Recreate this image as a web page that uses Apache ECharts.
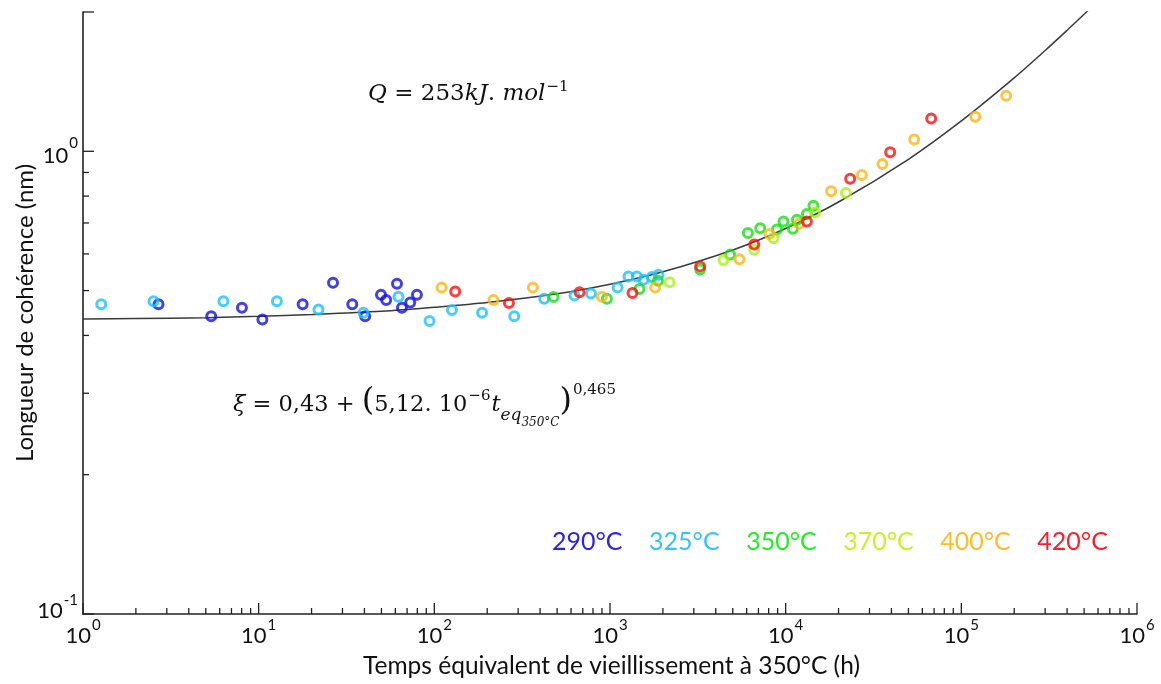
<!DOCTYPE html>
<html><head><meta charset="utf-8">
<script src="https://cdn.jsdelivr.net/npm/echarts@6/dist/echarts.min.js"></script>
<style>html,body{margin:0;padding:0;background:#fff}#c{width:1161px;height:684px}</style>
</head><body><div id="c"></div>
<script>
// ---- data ----
const seriesNames = ['290°C', '325°C', '350°C', '370°C', '400°C', '420°C'];
const seriesColors = ['#1212e6', '#1cc0ff', '#14e014', '#aaf014', '#ffb414', '#ff0c0c'];
const legendColors = ['#2a22f0', '#30c4ff', '#22ee22', '#c4f422', '#ffbc28', '#ff1c28'];

const s290 = [[2.69,0.467],[5.37,0.440],[8.03,0.459],[10.5,0.433],[17.8,0.467],[26.5,0.520],[34.1,0.467],[40.4,0.440],[49.7,0.490],[53.2,0.477],[61.3,0.517],[65.4,0.459],[72.9,0.471],[79.6,0.490]];
const s325 = [[1.27,0.467],[2.52,0.474],[6.3,0.474],[12.7,0.474],[21.9,0.455],[39.5,0.448],[62.5,0.485],[93.9,0.430],[126,0.454],[187,0.448],[285,0.440],[422,0.480],[628,0.488],[779,0.493],[1104,0.508],[1274,0.536],[1422,0.536],[1552,0.528],[1732,0.535],[1888,0.541]];
const s350 = [[477,0.484],[960,0.480],[1472,0.504],[1875,0.525],[3260,0.555],[4830,0.598],[6095,0.666],[7163,0.682],[8915,0.678],[9720,0.705],[10990,0.680],[11590,0.711],[13210,0.732],[14390,0.763]];
const s370 = [[2181,0.521],[4426,0.582],[6622,0.613],[8530,0.649],[14720,0.738],[22020,0.813]];
const s400 = [[110,0.508],[217,0.477],[364,0.508],[899,0.485],[1808,0.508],[5457,0.584],[8088,0.663],[11940,0.697],[18150,0.820],[27150,0.889],[35560,0.939],[53870,1.060],[119900,1.188],[179900,1.319]];
const s420 = [[131.5,0.498],[266,0.470],[671,0.496],[1343,0.494],[3260,0.564],[6622,0.629],[13210,0.705],[23290,0.872],[39350,0.995],[67350,1.177]];

// fitted curve
const fitT  = [1, 2, 5, 10, 20, 50, 100, 200, 500, 1000, 2000, 5000, 10000, 20000, 50000, 100000, 200000, 300000, 400000, 500000, 600000];
const fitXi = [0.434, 0.435, 0.437, 0.440, 0.444, 0.451, 0.460, 0.471, 0.492, 0.516, 0.549, 0.612, 0.681, 0.777, 0.961, 1.163, 1.441, 1.651, 1.826, 1.978, 2.115];

// axes
const X_MIN = 1, X_MAX = 1e6, Y_MIN = 0.1, Y_MAX = 2;
const xMajorTicks = [1, 10, 100, 1000, 10000, 100000, 1000000];
const yMajorTicks = [0.1, 1, 2];
const mantissas = [2, 3, 4, 5, 6, 7, 8, 9];
const xMinorTicks = [];
for (let k = 0; k < 6; k++) for (const m of mantissas) xMinorTicks.push(m * Math.pow(10, k));
const yMinorTicks = mantissas.map(m => m / 10);

const SANS = "Lato, 'Open Sans', sans-serif";
const SERIF = "'DejaVu Serif', serif";
const AXIS_COLOR = '#222';
const MAJOR_LEN = 11, MINOR_LEN = 6;

const chart = echarts.init(document.getElementById('c'), null, {renderer: 'canvas'});

function expLabel(v) {
  const e = Math.log10(v);
  if (Math.abs(e - Math.round(e)) > 1e-6) return '';
  return '{b|10}{s|' + Math.round(e) + '}';
}
function yExpLabel(v) {
  const e = Math.log10(v);
  if (Math.abs(e - Math.round(e)) > 1e-6) return '';
  const k = Math.round(e);
  return k < 0 ? '{bl|10}{sl|' + k + '}' : '{b|10}{s|' + k + '}';
}
const labelRich = {
  b: {fontSize: 22, fontFamily: SANS, color: '#111', verticalAlign: 'top', padding: [7, 0, 0, 0]},
  s: {fontSize: 15, fontFamily: SANS, color: '#111', verticalAlign: 'top', padding: [0, 0, 0, 1]}
};
const yLabelRich = {
  b: {fontSize: 22, fontFamily: SANS, color: '#111', verticalAlign: 'top', padding: [9, 0, 0, 0]},
  s: {fontSize: 15, fontFamily: SANS, color: '#111', verticalAlign: 'top', padding: [0, 0, 0, 1]},
  bl: {fontSize: 22, fontFamily: SANS, color: '#111', verticalAlign: 'top', padding: [7, 0, 14, 0]},
  sl: {fontSize: 15, fontFamily: SANS, color: '#111', verticalAlign: 'top', padding: [0, 0, 0, 1]}
};

const xTickData = xMajorTicks.map(v => [v, Y_MIN, MAJOR_LEN]).concat(xMinorTicks.map(v => [v, Y_MIN, MINOR_LEN]));
const yTickData = yMajorTicks.map(v => [X_MIN, v, MAJOR_LEN]).concat(yMinorTicks.map(v => [X_MIN, v, MINOR_LEN]));

const scatterSeries = [s290, s325, s350, s370, s400, s420].map((d, i) => ({
  name: seriesNames[i],
  type: 'scatter',
  data: d,
  symbol: 'circle',
  symbolSize: 9,
  z: 3,
  itemStyle: {color: 'rgba(255,255,255,0)', borderColor: seriesColors[i], borderWidth: 3}
}));

const option = {
  animation: false,
  backgroundColor: '#fff',
  grid: {left: 83, right: 24, top: 12, bottom: 70, containLabel: false, outerBoundsMode: 'none'},
  xAxis: {
    type: 'log', min: X_MIN, max: X_MAX, logBase: 10,
    axisLine: {show: true, onZero: false, lineStyle: {color: AXIS_COLOR, width: 1.6}},
    axisTick: {show: false},
    splitLine: {show: false},
    minorTick: {show: false},
    axisLabel: {margin: 4, formatter: expLabel, rich: labelRich, showMinLabel: true, showMaxLabel: true},
    name: 'Temps équivalent de vieillissement à 350°C (h)',
    nameLocation: 'middle', nameGap: 40,
    nameTextStyle: {fontSize: 24.5, fontFamily: SANS, color: '#111', padding: [0, 0, 0, 3]}
  },
  yAxis: {
    type: 'log', min: Y_MIN, max: Y_MAX, logBase: 10,
    axisLine: {show: true, onZero: false, lineStyle: {color: AXIS_COLOR, width: 1.6}},
    axisTick: {show: false},
    splitLine: {show: false},
    minorTick: {show: false},
    axisLabel: {margin: 5, formatter: yExpLabel, rich: yLabelRich, showMaxLabel: false},
    name: 'Longueur de cohérence (nm)',
    nameLocation: 'middle', nameGap: 46, nameRotate: 90, nameMoveOverlap: false,
    nameTextStyle: {fontSize: 24, fontFamily: SANS, color: '#111'}
  },
  legend: {
    left: 541, top: 524, itemGap: 20.5, itemWidth: 1, itemHeight: 1,
    selectedMode: false,
    textStyle: {fontSize: 25, fontFamily: SANS},
    data: seriesNames.map((n, i) => ({name: n, icon: 'none', textStyle: {color: legendColors[i]}}))
  },
  series: [
    {
      type: 'line', name: 'fit', data: fitT.map((t, i) => [t, fitXi[i]]),
      smooth: 0.3, showSymbol: false, symbol: 'none', clip: true, z: 2,
      lineStyle: {color: '#3a3a3a', width: 1.5}
    },
    {
      type: 'custom', silent: true, z: 5, clip: false, data: xTickData,
      encode: {x: 0, y: 1},
      renderItem: (params, api) => {
        const p = api.coord([api.value(0), api.value(1)]);
        const len = api.value(2);
        return {type: 'line', shape: {x1: p[0], y1: p[1], x2: p[0], y2: p[1] - len}, style: {stroke: AXIS_COLOR, lineWidth: 1.3}};
      }
    },
    {
      type: 'custom', silent: true, z: 5, clip: false, data: yTickData,
      encode: {x: 0, y: 1},
      renderItem: (params, api) => {
        const p = api.coord([api.value(0), api.value(1)]);
        const len = api.value(2);
        return {type: 'line', shape: {x1: p[0], y1: p[1], x2: p[0] + len, y2: p[1]}, style: {stroke: AXIS_COLOR, lineWidth: 1.3}};
      }
    }
  ].concat(scatterSeries),
  graphic: [
    {
      type: 'text', left: 368, top: 80, silent: true,
      style: {
        text: '{i|Q}{n| = 253}{i|kJ}{n|. }{i|mol}{s|−1}',
        rich: {
          i: {fontSize: 23, fontFamily: SERIF, fontStyle: 'italic', fill: '#111', verticalAlign: 'top', padding: [4, 0, 0, 0]},
          n: {fontSize: 23, fontFamily: SERIF, fill: '#111', verticalAlign: 'top', padding: [4, 0, 0, 0]},
          s: {fontSize: 15, fontFamily: SERIF, fill: '#111', verticalAlign: 'top', padding: [1, 0, 0, 1]}
        }
      }
    },
    {
      type: 'text', left: 233, top: 383, silent: true,
      style: {
        text: '{i|ξ}{n| = 0,43 + }{p|(}{n|5,12. 10}{s|−6}{i|t}{sb|eq}{ssb|350°C}{p|)}{s2|0,465}',
        rich: {
          i: {fontSize: 22.5, fontFamily: SERIF, fontStyle: 'italic', fill: '#111', verticalAlign: 'top', padding: [13, 0, 0, 0]},
          n: {fontSize: 22.5, fontFamily: SERIF, fill: '#111', verticalAlign: 'top', padding: [13, 0, 0, 0]},
          s: {fontSize: 15, fontFamily: SERIF, fill: '#111', verticalAlign: 'top', padding: [8, 1, 0, 1]},
          sb: {fontSize: 17, fontFamily: SERIF, fontStyle: 'italic', fill: '#111', verticalAlign: 'top', padding: [26, 0, 0, 0]},
          ssb: {fontSize: 12, fontFamily: SERIF, fontStyle: 'italic', fill: '#111', verticalAlign: 'top', padding: [36, 0, 0, 0]},
          p: {fontSize: 32, fontFamily: SERIF, fill: '#111', verticalAlign: 'top', padding: [5, 0, 0, 0]},
          s2: {fontSize: 15, fontFamily: SERIF, fill: '#111', verticalAlign: 'top', padding: [2, 0, 0, 1]}
        }
      }
    }
  ]
};
chart.setOption(option);
</script>
</body></html>
